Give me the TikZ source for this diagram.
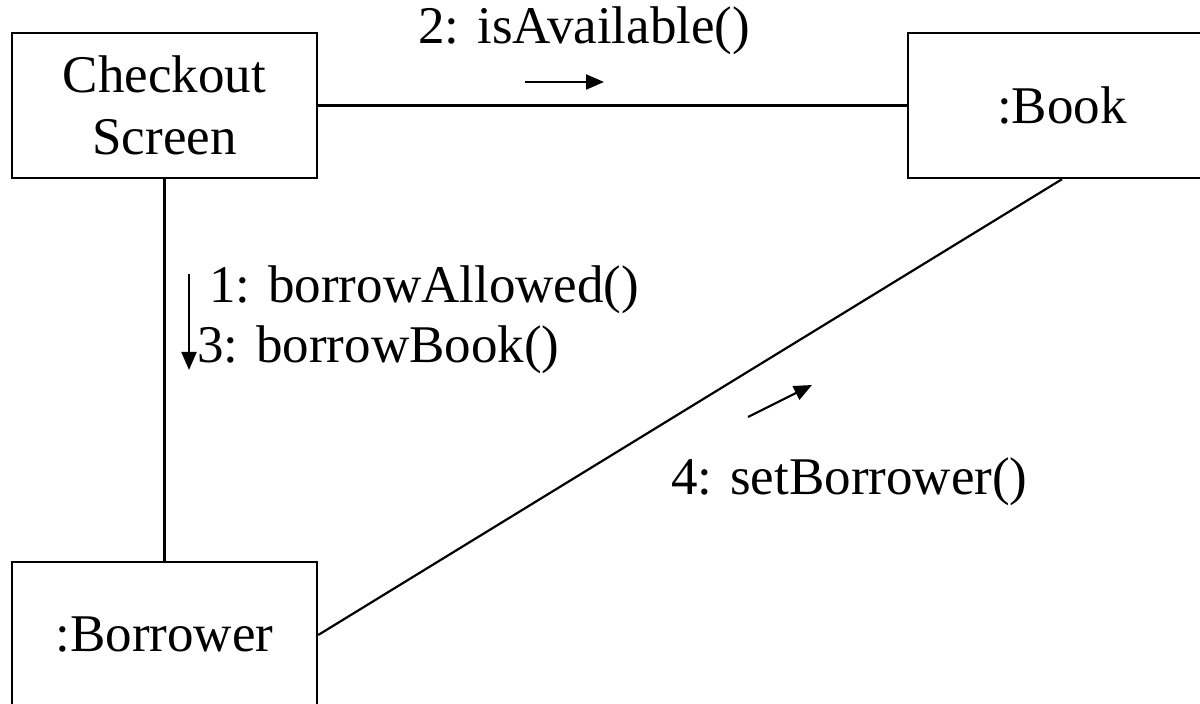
\documentclass[tikz,border=0pt]{standalone}
\usepackage{fontspec}
\setmainfont{Liberation Serif}
\usetikzlibrary{arrows.meta}
\begin{document}
\begin{tikzpicture}[x=0.5pt,y=-0.5pt,
  every node/.style={font=\fontsize{26.5}{31}\selectfont},
  obj/.style={draw,line width=1.2pt,rectangle,inner sep=0pt,align=center,
    minimum height=72.5pt},
  link/.style={line width=1.1pt},
  msg/.style={line width=1.1pt,-{Triangle[length=9pt,width=7.5pt]}},
  lbl/.style={anchor=base west,inner sep=0pt}]
\useasboundingbox (0,0) rectangle (1200,704);
\clip (0,0) rectangle (1200,704);
\fill[white] (0,0) rectangle (1200,704);

% objects
\node[obj,minimum width=152.5pt] (checkout) at (164.5,105.5) {Checkout\\Screen};
\node[obj,minimum width=154pt] (book) at (1062,105.5) {:Book};
\node[obj,minimum width=152.5pt,minimum height=73pt] (borrower) at (164.5,635) {:Borrower};

% links
\draw[link] (checkout.east) -- (book.west);
\draw[link] (checkout.south) -- (borrower.north);
\draw[link] (borrower.east) -- (book.south);

% message arrows
\coordinate (m2a) at (525,82);  \coordinate (m2b) at (604,82);
\coordinate (m1a) at (189,274); \coordinate (m1b) at (189,370);
\coordinate (m4a) at (748,417); \coordinate (m4b) at (812,385);
\draw[msg] (m2a) -- (m2b);
\draw[msg] (m1a) -- (m1b);
\draw[msg] (m4a) -- (m4b);

% message labels
\node[lbl] (l2) at (418,44) {2: isAvailable()};
\node[lbl] (l1) at (209,303) {1: borrowAllowed()};
\node[lbl] (l3) at (197,363) {3: borrowBook()};
\node[lbl] (l4) at (671,495) {4: setBorrower()};
\end{tikzpicture}
\end{document}
